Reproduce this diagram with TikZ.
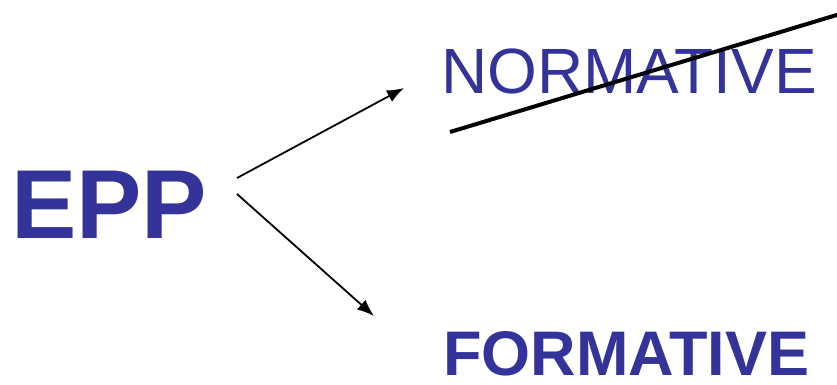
\documentclass[tikz,border=0pt]{standalone}
\usepackage{fontspec}
\setmainfont{Liberation Sans}
\usetikzlibrary{arrows.meta}
\definecolor{eppblue}{RGB}{51,51,153}

\begin{document}
\begin{tikzpicture}[x=1pt, y=1pt,
  word/.style={anchor=base west, inner sep=0pt, text=eppblue},
  link/.style={-{Latex[length=17pt,width=13pt]}, line width=1.8pt}]
\useasboundingbox (0, 0) rectangle (837, 384);

\node[word, font=\fontsize{98}{98}\selectfont\bfseries] (epp) at (11, 146) {EPP};
\node[word, font=\fontsize{64}{64}\selectfont] (norm) at (441, 291) {NORMATIVE};
\node[word, font=\fontsize{63}{63}\selectfont\bfseries] (form) at (443, 9) {FORMATIVE};

\coordinate (up0) at (237, 206);
\coordinate (dn0) at (237, 190);
\coordinate (up1) at (404, 296);
\coordinate (dn1) at (374, 68);
\draw[link] (up0) -- (up1);
\draw[link] (dn0) -- (dn1);

% cross out
\coordinate (s0) at (450, 252);
\coordinate (s1) at (840, 370);
\draw[line width=4pt] (s0) -- (s1);
\end{tikzpicture}
\end{document}
